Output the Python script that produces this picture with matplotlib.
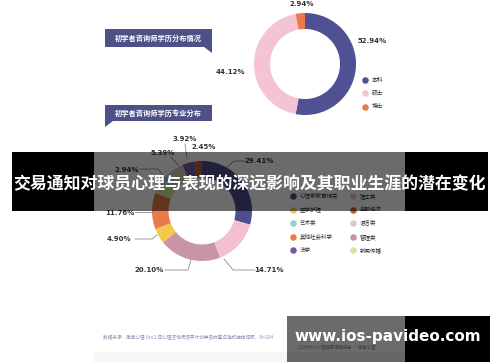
import matplotlib
matplotlib.use("Agg")
import matplotlib.pyplot as plt
from matplotlib.patches import Rectangle, Polygon

plt.rcParams['font.family'] = ['Noto Sans CJK SC', 'DejaVu Sans']

# 学历分布 (上方环形图)
edu_labels = ['本科', '硕士', '博士']
edu_values = [52.94, 44.12, 2.94]
edu_colors = ['#4f5192', '#f4c4d4', '#ea7a4a']

# 专业分布 (下方环形图), 顺时针从 12 点开始
major_labels = ['心理学教育相关', '理工类', '管理类', '医学护理', '其他社会科学',
                '新闻传播', '艺术类', '语言类', '法学', '金融经济']
major_values = [29.41, 14.71, 20.10, 4.90, 11.76, 4.42, 2.94, 5.39, 3.92, 2.45]
major_colors = ['#4b4f8c', '#f2c0d0', '#c994a6', '#f5c84c', '#ea7a4a',
                '#d3e79c', '#8fd0d6', '#dccbb6', '#6d5ca8', '#c9582f']
# 图例顺序 (两列)
legend_order = ['心理学教育相关', '理工类', '医学护理', '金融经济', '艺术类',
                '语言类', '其他社会科学', '管理类', '法学', '新闻传播']

title = '交易通知对球员心理与表现的深远影响及其职业生涯的潜在变化'
watermark = 'www.ios-pavideo.com'

fig = plt.figure(figsize=(5, 3.62), dpi=100)
ax = fig.add_axes([0, 0, 1, 1])

# y 轴反向后, startangle=-90 + counterclock=True 在画面上就是从顶部顺时针
ax.pie(edu_values, colors=edu_colors, center=(305, 64), radius=51,
       startangle=-90, counterclock=True,
       wedgeprops=dict(width=16, linewidth=0))
ax.pie(major_values, colors=major_colors, center=(202, 211), radius=50,
       startangle=-90, counterclock=True,
       wedgeprops=dict(width=16.5, linewidth=0))

ax.set_xlim(0, 500)
ax.set_ylim(362, 0)
ax.set_aspect('equal')
ax.axis('off')

num_font = dict(fontsize=5, fontweight='bold', color='#333333',
                family=['DejaVu Sans'], ha='center', va='center')

# 上方图的数值标签
ax.text(302, 4, f'{edu_values[2]:.2f}%', **num_font)
ax.text(372, 41, f'{edu_values[0]:.2f}%', **num_font)
ax.text(230, 72, f'{edu_values[1]:.2f}%', **num_font)

# 上方图例
for i, (lab, col) in enumerate(zip(edu_labels, edu_colors)):
    y = 80 + i * 13.3
    ax.scatter(365, y, s=22, color=col, linewidths=0)
    ax.text(372, y, lab, fontsize=4.2, va='center', color='#333333')

# 标题框
box_col = '#4e5187'
ax.add_patch(Rectangle((105, 29), 107, 18, color=box_col, linewidth=0))
ax.add_patch(Polygon([(204, 47), (212, 47), (212, 53)], color=box_col, linewidth=0))
ax.text(158, 38, '初学者咨询师学历分布情况', fontsize=5.2, color='white',
        ha='center', va='center', fontweight='bold')
ax.add_patch(Rectangle((105, 105), 107, 16, color=box_col, linewidth=0))
ax.add_patch(Polygon([(105, 121), (113, 121), (105, 127)], color=box_col, linewidth=0))
ax.text(158, 113, '初学者咨询师学历专业分布', fontsize=5.2, color='white',
        ha='center', va='center', fontweight='bold')

# 下方图的数值标签和引线
lc = '#777777'
major_notes = [
    (29.41, (259, 161), [(227, 167), (234, 161), (245, 161)]),
    (14.71, (269, 270), [(224, 259), (233, 270), (255, 270)]),
    (20.10, (149, 270), [(191, 260), (188, 270), (165, 270)]),
    (4.90, (119, 239), [(157, 235), (152, 239), (135, 239)]),
    (11.76, (120, 213), [(152, 212), (135, 212)]),
    (2.94, (127, 170), [(165, 178), (158, 169), (140, 169)]),
    (5.39, (163, 153), [(178, 165), (171, 157)]),
    (3.92, (185, 139), [(187, 158), (185, 144)]),
    (2.45, (204, 147), []),
]
for val, (tx, ty), pts in major_notes:
    ax.text(tx, ty, f'{val:.2f}%', **num_font)
    if pts:
        ax.plot([p[0] for p in pts], [p[1] for p in pts], color=lc, lw=0.5)

# 下方图例
col_of = dict(zip(major_labels, major_colors))
for i, lab in enumerate(legend_order):
    cx = 293 if i % 2 == 0 else 353
    y = 196 + (i // 2) * 13.6
    ax.scatter(cx, y, s=22, color=col_of[lab], linewidths=0)
    ax.text(cx + 7, y, lab, fontsize=4, va='center', color='#333333')

# 数据来源
ax.text(103, 337, '数据来源：简单心理 Uni 2 年心理咨询师培养计划学员的匿名随机抽样调研，N=204',
        fontsize=3.3, color='#8a8fb0', va='center')
ax.text(298, 348, '2020大众心理健康洞察报告 · 简单心理', fontsize=3.2,
        color='#8a8fb0', va='center')
ax.add_patch(Rectangle((94, 352), 311, 10, color='#f6f6f8', linewidth=0, zorder=0))

# 标题遮罩条
ax.add_patch(Rectangle((12, 152), 82, 59, color='black', linewidth=0, zorder=5))
ax.add_patch(Rectangle((405, 152), 83, 59, color='black', linewidth=0, zorder=5))
ax.add_patch(Rectangle((94, 152), 311, 59, color='black', alpha=0.58,
                       linewidth=0, zorder=5))
ax.text(250, 184, title, fontsize=12.2, fontweight='bold', color='white',
        ha='center', va='center', zorder=6)

# 水印
ax.add_patch(Rectangle((287, 316), 118, 46, color='black', alpha=0.58,
                       linewidth=0, zorder=5))
ax.add_patch(Rectangle((405, 316), 85, 46, color='black', linewidth=0, zorder=5))
ax.text(388, 337, watermark, fontsize=11, fontweight='bold', color='white',
        family=['DejaVu Sans'], ha='center', va='center', zorder=6)

fig.savefig('out.png', dpi=100)
